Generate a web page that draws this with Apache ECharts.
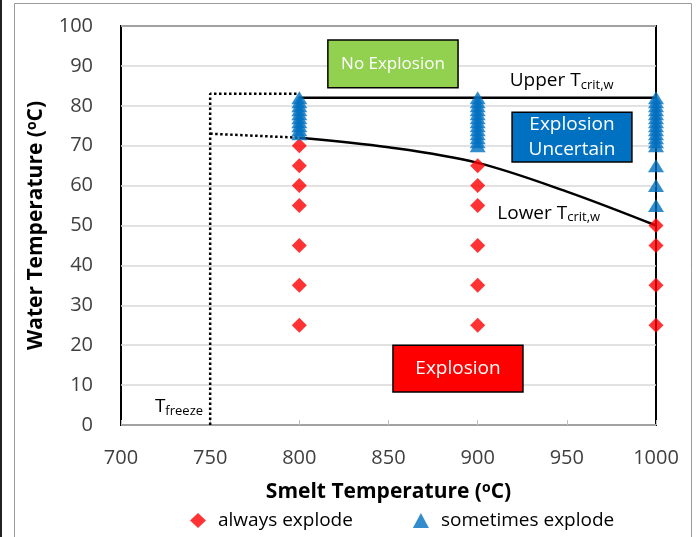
<!DOCTYPE html>
<html>
<head>
<meta charset="utf-8">
<script src="https://cdn.jsdelivr.net/npm/echarts@6/dist/echarts.min.js"></script>
<style>
  html, body { margin: 0; padding: 0; background: #fff; }
  #chart { width: 699px; height: 537px; }
</style>
</head>
<body>
<div id="chart"></div>
<script>
// Smelt temperatures tested (°C)
const smeltTemps = [800, 900, 1000];

// Water temperatures (°C) where the smelt always exploded, per smelt temperature
const alwaysAt800 = [70, 65, 60, 55, 45, 35, 25];
const alwaysAt900 = [65, 60, 55, 45, 35, 25];
const alwaysAt1000 = [50, 45, 35, 25];

// Water temperatures (°C) where the smelt sometimes exploded
const sometimesAt800 = [73, 74, 75, 76, 77, 78, 79, 80, 81, 82];
const sometimesAt900 = [70, 71, 72, 73, 74, 75, 76, 77, 78, 79, 80, 81, 82];
const sometimesAt1000 = [55, 60, 65, 70, 71, 72, 73, 74, 75, 76, 77, 78, 79, 80, 81, 82];

// Critical water temperature boundaries
const upperCrit = [[800, 82], [1000, 82]];
const lowerCrit = [[800, 72], [850, 69.6], [900, 65.7], [950, 58.5], [1000, 50]];

// Extrapolated boundaries down to the smelt freezing point
const freezeTemp = 750;
const upperExtrap = [[750, 0], [750, 83], [800, 83]];
const lowerExtrap = [[750, 73], [800, 72]];

// Axis ticks
const xMin = 700, xMax = 1000, xStep = 50;
const yMin = 0, yMax = 100, yStep = 10;

const alwaysByTemp = [alwaysAt800, alwaysAt900, alwaysAt1000];
const sometimesByTemp = [sometimesAt800, sometimesAt900, sometimesAt1000];
const toPoints = (groups) => groups.flatMap((vals, i) => vals.map(v => [smeltTemps[i], v]));

const FONT = '"Open Sans", "Liberation Sans", sans-serif';
const RED = '#FF0000';
const BLUE = '#0070C0';
const GREEN = '#92D050';

const chart = echarts.init(document.getElementById('chart'));

const titleRich = {
  t: { fontFamily: FONT, fontSize: 21, fontWeight: 'bold', color: '#000' },
  s: { fontFamily: FONT, fontSize: 14, fontWeight: 'bold', color: '#000', verticalAlign: 'top', padding: [0, 0, 8, 0] }
};

const option = {
  animation: false,
  textStyle: { fontFamily: FONT },
  grid: {
    left: 121, right: 43, top: 26, bottom: 112,
    show: true, borderColor: '#000', borderWidth: 2, backgroundColor: 'transparent'
  },
  xAxis: {
    type: 'value', min: xMin, max: xMax, interval: xStep,
    name: '{t|Smelt Temperature (}{s|o}{t|C)}',
    nameLocation: 'middle', nameGap: 56,
    nameTextStyle: { rich: titleRich },
    axisLine: { show: false },
    axisTick: { show: true, inside: true, length: 5, lineStyle: { color: '#bfbfbf' } },
    axisLabel: { fontSize: 20, color: '#404040', margin: 23, formatter: (v) => String(v) },
    splitLine: { show: false }
  },
  yAxis: {
    type: 'value', min: yMin, max: yMax, interval: yStep,
    name: '{t|Water Temperature (}{s|o}{t|C)}',
    nameLocation: 'middle', nameGap: 74,
    nameTextStyle: { rich: titleRich },
    axisLine: { show: false },
    axisTick: { show: false },
    axisLabel: { fontSize: 20, color: '#404040', margin: 28 },
    splitLine: { lineStyle: { color: '#d9d9d9', width: 1.5 } }
  },
  legend: {
    bottom: 2, left: 185,
    itemGap: 60, itemWidth: 16, itemHeight: 15,
    textStyle: { fontSize: 19, color: '#000', fontFamily: FONT, padding: [0, 0, 0, 7] },
    data: [
      { name: 'always explode', icon: 'diamond' },
      { name: 'sometimes explode', icon: 'triangle' }
    ]
  },
  series: [
    {
      name: 'upperExtrap', type: 'line', data: upperExtrap, symbol: 'none',
      lineStyle: { color: '#000', width: 2.5, type: [2.5, 2.5] }, z: 3, silent: true
    },
    {
      name: 'lowerExtrap', type: 'line', data: lowerExtrap, symbol: 'none',
      lineStyle: { color: '#000', width: 2.5, type: [2.5, 2.5] }, z: 3, silent: true
    },
    {
      name: 'upperCrit', type: 'line', data: upperCrit, symbol: 'none',
      lineStyle: { color: '#000', width: 2.5 }, z: 3, silent: true,
      markArea: {
        silent: true,
        data: [
          [
            { coord: [816, 96.5], itemStyle: { color: GREEN, borderColor: '#000', borderWidth: 1.5 },
              label: { show: true, position: 'inside', formatter: 'No Explosion', color: '#fff', fontSize: 17, fontFamily: FONT } },
            { coord: [889, 84.5] }
          ],
          [
            { coord: [919.3, 78.4], itemStyle: { color: BLUE, borderColor: '#000', borderWidth: 1.5 },
              label: { show: true, position: 'inside', formatter: 'Explosion\nUncertain', color: '#fff', fontSize: 19, lineHeight: 25, fontFamily: FONT } },
            { coord: [986.5, 65.9] }
          ],
          [
            { coord: [852.5, 20], itemStyle: { color: RED, borderColor: '#000', borderWidth: 1.5 },
              label: { show: true, position: 'inside', formatter: 'Explosion', color: '#fff', fontSize: 19, fontFamily: FONT } },
            { coord: [925.4, 8.3] }
          ]
        ]
      }
    },
    {
      name: 'lowerCrit', type: 'line', data: lowerCrit, symbol: 'none', smooth: 0.35,
      lineStyle: { color: '#000', width: 2.5 }, z: 3, silent: true
    },
    {
      name: 'always explode', type: 'scatter', data: toPoints(alwaysByTemp),
      symbol: 'diamond', symbolSize: [15, 15], clip: false,
      itemStyle: { color: RED }, z: 4
    },
    {
      name: 'sometimes explode', type: 'scatter', data: toPoints(sometimesByTemp),
      symbol: 'triangle', symbolSize: [16, 13], clip: false,
      itemStyle: { color: BLUE }, z: 5
    }
  ]
};

chart.setOption(option);

// Boundary and freezing-point annotations placed in data coordinates
function px(pt) { return chart.convertToPixel({ gridIndex: 0 }, pt); }
const upperPos = px([918, 86.2]);
const lowerPos = px([911, 53.1]);
const freezePos = px([freezeTemp - 4, 4.5]);

const labelRich = {
  m: { fontFamily: FONT, fontSize: 19, color: '#000' },
  sub: { fontFamily: FONT, fontSize: 13, color: '#000', padding: [9, 0, 0, 0] }
};

chart.setOption({
  graphic: [
    // page frame
    { type: 'rect', shape: { x: 14.5, y: 3.5, width: 677, height: 540 }, style: { fill: 'none', stroke: '#9a9a9a', lineWidth: 1 }, silent: true, z: -10 },
    { type: 'rect', shape: { x: 0, y: 0, width: 2, height: 537 }, style: { fill: '#222' }, silent: true, z: -10 },
    {
      type: 'text', x: upperPos[0], y: upperPos[1],
      style: { text: '{m|Upper T}{sub|crit,w}', rich: labelRich, verticalAlign: 'middle', align: 'left' }, z: 10
    },
    {
      type: 'text', x: lowerPos[0], y: lowerPos[1],
      style: { text: '{m|Lower T}{sub|crit,w}', rich: labelRich, verticalAlign: 'middle', align: 'left' }, z: 10
    },
    {
      type: 'text', x: freezePos[0], y: freezePos[1],
      style: { text: '{m|T}{sub|freeze}', rich: labelRich, verticalAlign: 'middle', align: 'right' }, z: 10
    }
  ]
});
</script>
</body>
</html>
